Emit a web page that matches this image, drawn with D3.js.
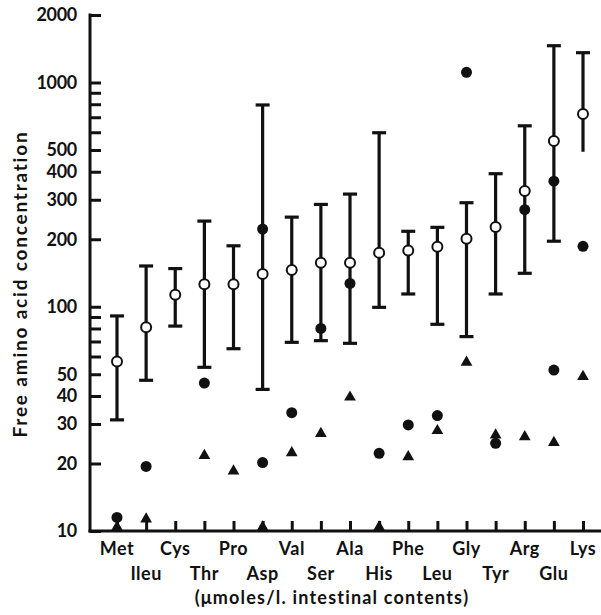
<!DOCTYPE html>
<html><head><meta charset="utf-8">
<script src="https://cdn.jsdelivr.net/npm/d3@7"></script>
<style>body{margin:0;background:#fff}svg{display:block}text{font-family:Lato,"Open Sans",sans-serif;font-weight:700;fill:#111}</style>
</head><body><svg id="c" width="601" height="615"></svg>
<script>
const categories = ["Met","Ileu","Cys","Thr","Pro","Asp","Val","Ser","Ala","His","Phe","Leu","Gly","Tyr","Arg","Glu","Lys"];
const meanValues = [57,81,113,126,126,140,146,157,157,174,178,185,201,227,328,548,724];
const rangeHigh  = [91,152,148,241,187,794,251,286,318,597,217,226,291,392,641,1459,1358];
const rangeLow   = [31.3,47,82,53.7,65,42.8,69.4,70.6,68.7,99.4,114,83.5,73.6,114,141,196,491];
const lowCap     = [true,true,true,true,true,true,true,true,true,true,true,true,true,true,true,true,false];
const solidCircleA = [11.5,19.4,null,45.7,null,222,33.7,80,127,22.2,29.7,32.7,1110,24.6,271,363,186];
const solidCircleB = [null,null,null,null,null,20.2,null,null,null,null,null,null,null,null,null,52.2,null];
const triangleValues = [10.3,11.3,null,21.7,18.5,10.3,22.3,27.2,39.5,10.3,21.4,28,56.5,26.8,26.3,24.8,48.8];
const yTickValues = [10,20,30,40,50,60,70,80,90,100,200,300,400,500,600,700,800,900,1000,2000];
const yTickLabels = [10,20,30,40,50,100,200,300,400,500,1000,2000];
const yTitle = "Free amino acid concentration";
const xTitle = "(\u03bcmoles/l. intestinal contents)";

const svg = d3.select("#c");
const x = d3.scalePoint().domain(categories).range([117,583]);
const y = d3.scaleLog().domain([10,2000]).range([531,15]);
const axisX0 = 90, axisY0 = 531;

// y axis
const yAxis = d3.axisRight(y).tickValues(yTickValues).tickSize(11).tickFormat("");
const gy = svg.append("g").attr("transform",`translate(${axisX0},0)`).call(yAxis);
gy.select(".domain").remove();
gy.selectAll(".tick line").attr("stroke","#111").attr("stroke-width",3);
svg.append("line").attr("x1",axisX0).attr("x2",axisX0).attr("y1",y(2000)-1.5).attr("y2",axisY0+1.5)
  .attr("stroke","#111").attr("stroke-width",3);
svg.append("g").selectAll("text").data(yTickLabels).join("text")
  .attr("x",77).attr("y",d=>y(d)).attr("dy","0.35em").attr("text-anchor","end")
  .attr("font-size",18).attr("letter-spacing",-0.3).text(d=>d);

// x axis
const xAxis = d3.axisTop(x).tickSize(10).tickFormat("");
const gx = svg.append("g").attr("transform",`translate(0,${axisY0})`).call(xAxis);
gx.select(".domain").remove();
gx.selectAll(".tick line").attr("stroke","#111").attr("stroke-width",3);
svg.append("line").attr("x1",axisX0-1.5).attr("x2",601).attr("y1",axisY0).attr("y2",axisY0)
  .attr("stroke","#111").attr("stroke-width",3);
svg.append("g").selectAll("text").data(categories).join("text")
  .attr("x",d=>x(d)).attr("y",(d,i)=>i%2===0?555:580).attr("text-anchor","middle")
  .attr("font-size",18).attr("letter-spacing",0.5).text(d=>d);
svg.append("text").attr("x",332).attr("y",604).attr("text-anchor","middle").attr("font-size",18)
  .attr("letter-spacing",1.2).text(xTitle);
svg.append("text").attr("transform","translate(27,284) rotate(-90)").attr("text-anchor","middle")
  .attr("font-size",19).attr("letter-spacing",1.8).text(yTitle);

// error bars
const eb = svg.append("g").attr("stroke","#111").attr("stroke-width",3.2);
categories.forEach((c,i)=>{
  const cx = x(c);
  eb.append("line").attr("x1",cx).attr("x2",cx).attr("y1",y(rangeHigh[i])).attr("y2",y(rangeLow[i]));
  eb.append("line").attr("x1",cx-7).attr("x2",cx+7).attr("y1",y(rangeHigh[i])).attr("y2",y(rangeHigh[i]));
  if(lowCap[i]) eb.append("line").attr("x1",cx-7).attr("x2",cx+7).attr("y1",y(rangeLow[i])).attr("y2",y(rangeLow[i]));
});

// solid circles
const solids = [];
categories.forEach((c,i)=>{ if(solidCircleA[i]!=null) solids.push([c,solidCircleA[i]]); if(solidCircleB[i]!=null) solids.push([c,solidCircleB[i]]); });
svg.append("g").selectAll("circle").data(solids).join("circle")
  .attr("cx",d=>x(d[0])).attr("cy",d=>y(d[1])).attr("r",5.5).attr("fill","#111");

// triangles
const tri = d3.symbol().type(d3.symbolTriangle).size(60);
svg.append("g").selectAll("path").data(categories.map((c,i)=>[c,triangleValues[i]]).filter(d=>d[1]!=null)).join("path")
  .attr("d",tri).attr("transform",d=>`translate(${x(d[0])},${Math.min(y(d[1]),axisY0-4)})`).attr("fill","#111");

// open circles (means)
svg.append("g").selectAll("circle").data(categories.map((c,i)=>[c,meanValues[i]])).join("circle")
  .attr("cx",d=>x(d[0])).attr("cy",d=>y(d[1])).attr("r",5).attr("fill","#fff").attr("stroke","#111").attr("stroke-width",2);
</script></body></html>
